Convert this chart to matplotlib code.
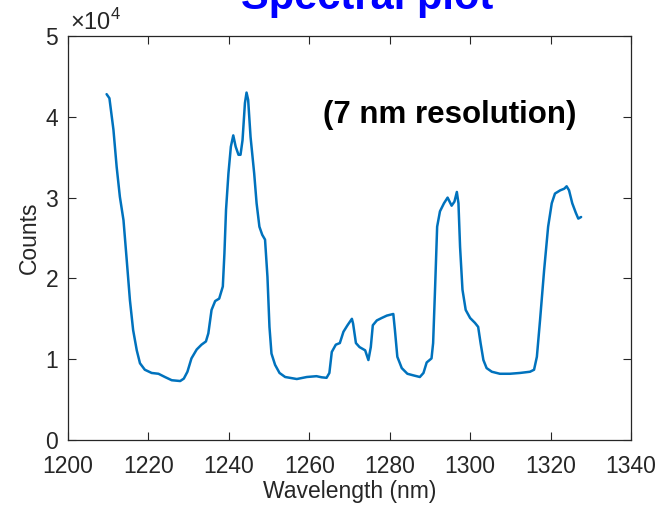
import numpy as np
import matplotlib
matplotlib.use("Agg")
import matplotlib.pyplot as plt
from matplotlib.ticker import FuncFormatter

# spectrum (wavelength in nm, counts)
wavelength = [1209.6, 1210.3, 1211.3, 1212.1, 1212.9, 1213.8, 1214.6, 1215.4, 1216.2,
              1217.1, 1217.9, 1219.1, 1220.8, 1222.5, 1224.1, 1225.8, 1227.9, 1228.8,
              1229.7, 1230.7, 1232.0, 1233.2, 1234.3, 1234.9, 1235.7, 1236.6, 1237.6,
              1238.5, 1238.9, 1239.3, 1239.9, 1240.5, 1241.1, 1241.7, 1242.4, 1242.9,
              1243.4, 1244.0, 1244.4, 1244.8, 1245.4, 1246.3, 1246.9, 1247.6, 1248.3,
              1249.0, 1249.6, 1250.1, 1250.6, 1251.5, 1252.6, 1254.0, 1256.9, 1259.4,
              1261.8, 1263.1, 1264.3, 1265.0, 1265.6, 1266.6, 1267.6, 1268.5, 1269.5,
              1270.6, 1270.9, 1271.6, 1272.5, 1273.9, 1274.7, 1275.3, 1275.8, 1276.8,
              1278.0, 1279.3, 1280.9, 1281.3, 1281.9, 1283.0, 1284.4, 1285.9, 1287.5,
              1288.4, 1289.2, 1290.4, 1290.8, 1291.3, 1291.8, 1292.5, 1293.5, 1294.4,
              1295.4, 1296.1, 1296.7, 1297.1, 1297.5, 1298.1, 1298.9, 1300.0, 1301.2,
              1302.0, 1302.6, 1303.3, 1304.1, 1305.4, 1307.4, 1309.9, 1312.4, 1314.9,
              1315.9, 1316.6, 1317.4, 1318.4, 1319.4, 1320.3, 1321.1, 1322.4, 1323.4,
              1324.0, 1324.6, 1325.4, 1326.3, 1326.9, 1327.6]
counts = [42800, 42300, 38400, 33800, 30100, 27200, 22300, 17300, 13600,
          11100, 9500, 8700, 8300, 8200, 7800, 7400, 7300, 7600,
          8450, 10100, 11200, 11800, 12200, 13200, 16100, 17200, 17500,
          19000, 23100, 28500, 33000, 36300, 37700, 36300, 35300, 35300,
          37100, 41700, 43000, 42100, 37500, 33000, 29300, 26400, 25400,
          24800, 20200, 14000, 10700, 9300, 8300, 7800, 7550, 7800,
          7900, 7760, 7700, 8300, 10900, 11800, 12000, 13400, 14200,
          15000, 14400, 12000, 11500, 11100, 9900, 11500, 14200, 14800,
          15100, 15400, 15600, 13600, 10300, 8900, 8200, 8000, 7800,
          8300, 9600, 10100, 12000, 19000, 26400, 28300, 29300, 30000,
          29000, 29500, 30700, 29300, 23900, 18600, 16100, 15100, 14500,
          14000, 12000, 9900, 8900, 8450, 8200, 8200, 8300, 8450,
          8700, 10300, 14900, 21000, 26400, 29300, 30500, 30900, 31100,
          31400, 30900, 29300, 28100, 27400, 27600]

xticks = [1200, 1220, 1240, 1260, 1280, 1300, 1320, 1340]
yticks = [0, 10000, 20000, 30000, 40000, 50000]

plt.rcParams['font.family'] = ['Liberation Sans', 'DejaVu Sans']
plt.rcParams['mathtext.fontset'] = 'custom'
plt.rcParams['mathtext.rm'] = 'Liberation Sans'

fig = plt.figure(figsize=(6.66, 5.07), dpi=100)
ax = fig.add_axes([0.1021, 0.1321, 0.8453, 0.7969])

ax.plot(wavelength, counts, color='#0072BD', linewidth=1.8,
        solid_joinstyle='round', solid_capstyle='round')

ax.set_xlim(1200, 1340)
ax.set_ylim(0, 50000)
ax.set_xticks(xticks)
ax.set_yticks(yticks)
ax.yaxis.set_major_formatter(FuncFormatter(lambda v, p: "%d" % round(v / 1e4)))

# matlab look: inward ticks on every side, dark gray box
ax.tick_params(direction='in', length=6, width=0.8, top=True, right=True,
               labelsize=16.5, colors='#262626')
ax.tick_params(axis='x', pad=11)
ax.tick_params(axis='y', pad=7)
for s in ax.spines.values():
    s.set_color('#262626')
    s.set_linewidth(0.9)

ax.set_xlabel('Wavelength (nm)', fontsize=16.5, color='#262626', labelpad=1)
ax.set_ylabel('Counts', fontsize=16.5, color='#262626', labelpad=3)

# exponent label above the y axis
ax.text(0.004, 1.015, r'$\times10^{4}$', transform=ax.transAxes, fontsize=17,
        color='#262626', ha='left', va='baseline')

ax.text(1295.0, 39200, '(7 nm resolution)', fontsize=22.5, fontweight='bold',
        ha='center', va='baseline', color='black')

# title sits mostly above the canvas, as in the original
fig.text(0.551, 1 - 9 / 507, 'Spectral plot', fontsize=30, fontweight='bold',
         color='#0000FF', ha='center', va='baseline')

fig.savefig('out.png', dpi=100)
